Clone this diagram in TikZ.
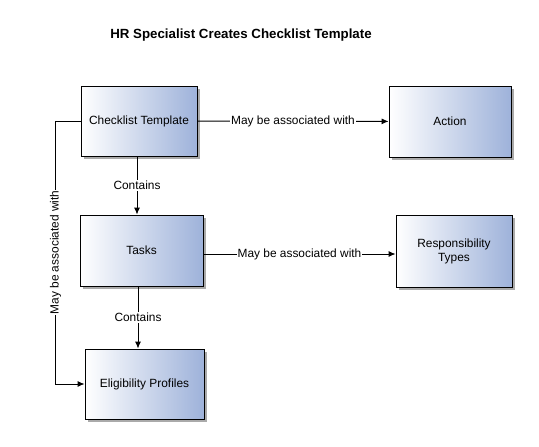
\documentclass[tikz,border=0pt]{standalone}
\usepackage{fontspec}
\setmainfont{Liberation Sans}
\usepackage{tikz}
\usetikzlibrary{arrows.meta,shapes,positioning,shadows}
\usepackage{xcolor}
\definecolor{hrblue}{RGB}{158,178,218}
\definecolor{hrshadow}{RGB}{170,170,170}
\tikzstyle{arrow} = [line width=0.9pt,-{Latex[length=7pt,width=6pt]},color=black]
\tikzstyle{entity} = [rectangle, minimum width=116pt, minimum height=70pt, text centered, align=center, draw=black, line width=0.9pt, left color=white, right color=hrblue, drop shadow={shadow xshift=3pt, shadow yshift=-3pt, fill=hrshadow, opacity=1}]
\tikzstyle{linklabel} = [fill=white, inner sep=1pt]

\begin{document}
\begin{tikzpicture}[x=1pt, y=-1pt, font=\fontsize{11.9}{14}\selectfont]
\useasboundingbox (0,0) rectangle (539,447);
% Title
\node (title) at (241,35) {\fontsize{13.3}{16}\selectfont\bfseries HR Specialist Creates Checklist Template};

% Checklist entities
\node (template) [entity] at (139,121) {Checklist Template};
\node (tasks) [entity, minimum width=123pt, minimum height=71pt] at (141.5,250.5) {Tasks};
\node (elig) [entity, minimum width=119pt] at (144.5,384) {Eligibility Profiles};
\node (action) [entity, minimum width=122pt, minimum height=71pt] at (450,121.5) {Action};
\node (resp) [entity, minimum height=72pt] at (454,251) {Responsibility\\Types};

\draw[arrow] (template) -- node[linklabel] {May be associated with} (action);
\draw[arrow] ([yshift=-3.5pt]tasks.east) -- node[linklabel] {May be associated with} ([yshift=-3.5pt]tasks.east -| resp.west);
\draw[arrow] ([xshift=-2pt]template.south) -- node[linklabel] {Contains} ([xshift=-2pt]template.south |- tasks.north);
\draw[arrow] ([xshift=-3.5pt]tasks.south) -- node[linklabel] {Contains} ([xshift=-3.5pt]tasks.south |- elig.north);
\draw[arrow] (template.west) -- ++(-25,0) |- node[pos=0.25, linklabel, rotate=90] {May be associated with} (elig.west);
\end{tikzpicture}
\end{document}
